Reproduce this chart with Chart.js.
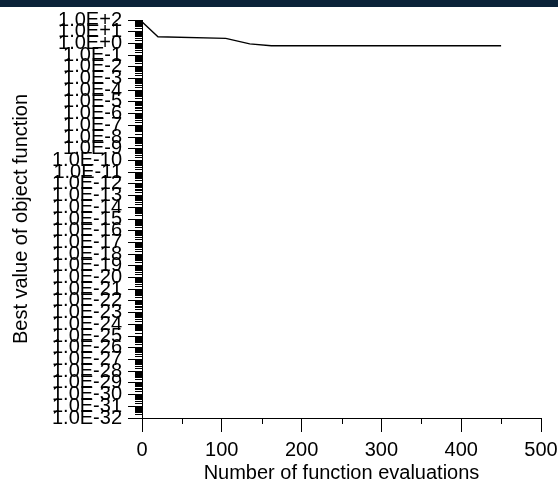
<!DOCTYPE html>
<html>
<head>
<meta charset="utf-8">
<script src="https://cdn.jsdelivr.net/npm/chart.js@4.4.0/dist/chart.umd.min.js"></script>
<style>
    body { margin: 0; background: #fff; }
    .top-band { position: absolute; left: 0; top: 0; width: 558px; height: 7px; background: #0b2339; z-index: 2; }
    .chart-box { position: absolute; left: 0; top: 0; width: 558px; height: 485px; }
</style>
</head>
<body>
<div class="top-band"></div>
<div class="chart-box"><canvas id="convChart"></canvas></div>
<script>
// data
const evals = [0, 20, 105, 135, 162, 450];
const bestValues = [70, 3.7, 2.7, 0.9, 0.63, 0.63];

// axes
const yMinExp = -32;
const yMaxExp = 2;
const xTicks = [0, 100, 200, 300, 400, 500];
const xMinorTicks = [50, 150, 250, 350, 450];

const fontFamily = "'Liberation Sans', Arial, Helvetica, sans-serif";

function expLabel(value) {
    const e = Math.round(Math.log10(value));
    return '1.0E' + (e >= 0 ? '+' : '-') + Math.abs(e);
}

// minor tick marks (shorter than the major ones)
const minorTicks = {
    id: 'minorTicks',
    afterDraw(chart) {
        const ctx = chart.ctx;
        const area = chart.chartArea;
        const y = chart.scales.y;
        const x = chart.scales.x;
        ctx.save();
        ctx.strokeStyle = '#000';
        ctx.lineWidth = 1;
        ctx.beginPath();
        for (let e = yMinExp; e < yMaxExp; e++) {
            for (let m = 2; m <= 9; m++) {
                const py = Math.round(y.getPixelForValue(m * Math.pow(10, e))) + 0.5;
                ctx.moveTo(area.left - 7, py);
                ctx.lineTo(area.left, py);
            }
        }
        xMinorTicks.forEach(v => {
            const px = Math.round(x.getPixelForValue(v)) + 0.5;
            ctx.moveTo(px, area.bottom);
            ctx.lineTo(px, area.bottom + 6);
        });
        ctx.stroke();
        ctx.restore();
    }
};

const ctx = document.getElementById('convChart').getContext('2d');

new Chart(ctx, {
    type: 'line',
    data: {
        datasets: [{
            data: evals.map((v, i) => ({ x: v, y: bestValues[i] })),
            borderColor: '#000',
            borderWidth: 1.3,
            pointRadius: 0,
            tension: 0,
            fill: false
        }]
    },
    options: {
        responsive: true,
        maintainAspectRatio: false,
        animation: false,
        layout: { padding: { left: 5, right: 17, top: 20, bottom: 0 } },
        plugins: {
            legend: { display: false },
            tooltip: { enabled: false }
        },
        scales: {
            x: {
                type: 'linear',
                min: 0,
                max: 500,
                afterBuildTicks: scale => {
                    scale.ticks = xTicks.map(v => ({ value: v }));
                },
                afterFit: scale => {
                    scale.height = 67;
                    scale.paddingLeft = 0;
                    scale.paddingRight = 0;
                },
                ticks: {
                    color: '#000',
                    font: { family: fontFamily, size: 20 },
                    padding: 6,
                    maxRotation: 0,
                    autoSkip: false
                },
                grid: { drawOnChartArea: false, tickLength: 14, tickColor: '#000' },
                border: { color: '#000', width: 1 },
                title: {
                    display: true,
                    text: 'Number of function evaluations',
                    color: '#000',
                    font: { family: fontFamily, size: 20 },
                    padding: { top: 4, bottom: 0 }
                }
            },
            y: {
                type: 'logarithmic',
                min: Math.pow(10, yMinExp),
                max: Math.pow(10, yMaxExp),
                afterBuildTicks: scale => {
                    const ticks = [];
                    for (let e = yMinExp; e <= yMaxExp; e++) {
                        ticks.push({ value: Math.pow(10, e) });
                    }
                    scale.ticks = ticks;
                },
                afterFit: scale => {
                    scale.width = 137;
                    scale.paddingTop = 0;
                    scale.paddingBottom = 0;
                },
                ticks: {
                    callback: value => expLabel(value),
                    color: '#000',
                    font: { family: fontFamily, size: 20 },
                    padding: 6,
                    autoSkip: false
                },
                grid: { drawOnChartArea: false, tickLength: 14, tickColor: '#000' },
                border: { color: '#000', width: 1 },
                title: {
                    display: true,
                    text: 'Best value of object function',
                    color: '#000',
                    font: { family: fontFamily, size: 20 },
                    padding: { top: 4, bottom: 0 }
                }
            }
        }
    },
    plugins: [minorTicks]
});
</script>
</body>
</html>
